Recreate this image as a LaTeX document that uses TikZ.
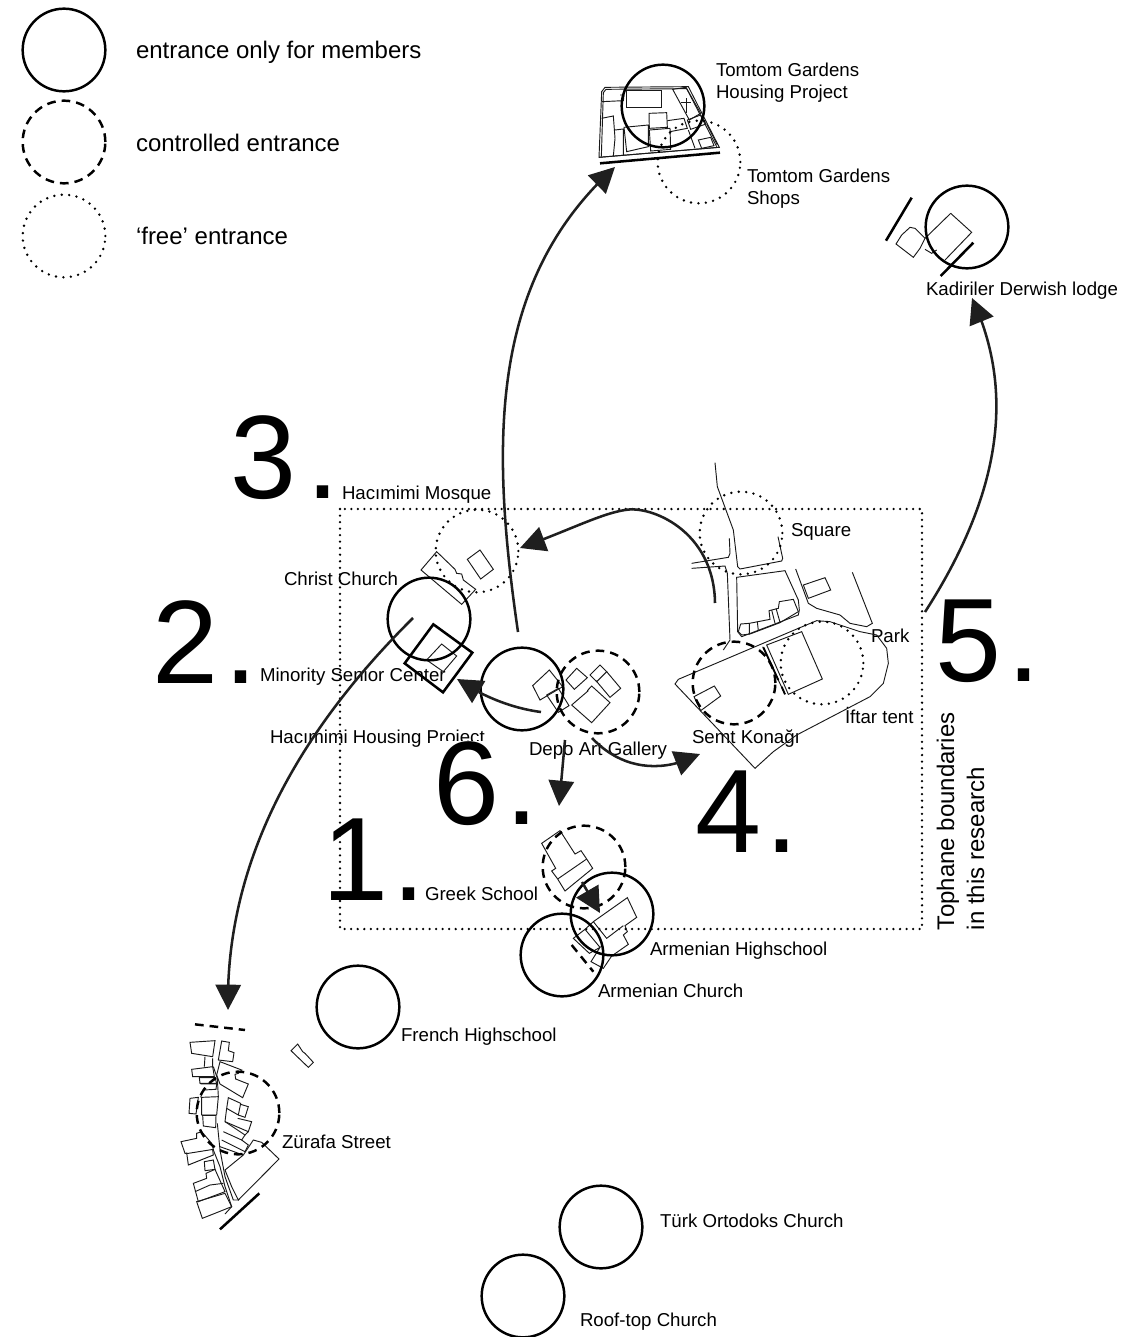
\documentclass[tikz,border=0pt]{standalone}
\usepackage{fontspec}
\setmainfont{Liberation Sans}
\usetikzlibrary{arrows.meta,bending}
\definecolor{ink}{HTML}{1F1F1F}
\tikzset{
  zm/.style 2 args={shift={(#1,#2)},x=0.25pt,y=-0.25pt},
  ringbase/.style={circle,minimum size=62pt,inner sep=0pt,outer sep=0pt,line width=1.85pt,draw=black},
  member/.style={ringbase},
  controlled/.style={ringbase,dash pattern=on 6.5pt off 4.5pt},
  free/.style={ringbase,line width=2pt,line cap=round,dash pattern=on 0pt off 5.6pt},
  thinl/.style={line width=0.7pt,draw=black!90,line join=miter},
  thickl/.style={line width=1.9pt,draw=black},
  route/.style={line width=1.9pt,draw=ink,-{Triangle[length=19pt,width=19pt,flex=1]}},
  lbl/.style={anchor=base west,inner sep=0pt,outer sep=0pt,font=\fontsize{14}{16.5}\selectfont,align=left},
  leg/.style={anchor=base west,inner sep=0pt,outer sep=0pt,font=\fontsize{18}{22}\selectfont},
  bignum/.style={anchor=base west,inner sep=0pt,outer sep=0pt,font=\fontsize{89}{89}\selectfont},
}
\begin{document}
\begin{tikzpicture}[x=0.75pt,y=-0.75pt]
\useasboundingbox (0,0) rectangle (1143,1337);

% labels
\node[lbl] (l9) at (270,743) {Hacımimi Housing Project};
\node[bignum] (n3) at (230,498) {3\kern0.085em.};
\node[bignum] (n2) at (152,683) {2\kern0.06em.};
\node[bignum,fill=white] (n6) at (433,824) {6\kern0.06em.};
\node[bignum] (n1) at (322,900) {1\kern0.04em.};
\node[bignum] (n4) at (695,852) {4\kern0.04em.};
\node[bignum] (n5) at (935,681) {5\kern0.06em.};
\node[leg] (t1) at (136,59) {entrance only for members};
\node[leg] (t2) at (136,152) {controlled entrance};
\node[leg] (t3) at (136,245) {‘free’ entrance};
\node[lbl] (l1) at (716,77) {Tomtom Gardens};
\node[lbl] (l1b) at (716,99) {Housing Project};
\node[lbl] (l2) at (747,183) {Tomtom Gardens};
\node[lbl] (l2b) at (747,205) {Shops};
\node[lbl] (l3) at (926,296) {Kadiriler Derwish lodge};
\node[lbl] (l4) at (342,499) {Hacımimi Mosque};
\node[lbl] (l5) at (791,536) {Square};
\node[lbl] (l6) at (284,585) {Christ Church};
\node[lbl] (l7) at (871,642) {Park};
\node[lbl] (l8) at (260,681) {Minority Senior Center};
\node[lbl] (l10) at (529,755) {Depo Art Gallery};
\node[lbl] (l11) at (692,743) {Semt Konağı};
\node[lbl] (l12) at (845,723) {İftar tent};
\node[lbl] (l13) at (425,900) {Greek School};
\node[lbl] (l14) at (650,955) {Armenian Highschool};
\node[lbl] (l15) at (598,997) {Armenian Church};
\node[lbl] (l16) at (401,1041) {French Highschool};
\node[lbl] (l17) at (282,1148) {Zürafa Street};
\node[lbl] (l18) at (660,1227) {Türk Ortodoks Church};
\node[lbl] (l19) at (580,1326) {Roof-top Church};
\node[leg,rotate=90] (v1) at (954,930) {Tophane boundaries};
\node[leg,rotate=90] (v2) at (984,930) {in this research};

% research boundary
\draw[line width=1.9pt,line cap=round,dash pattern=on 0pt off 4.9pt,draw=black] (340,509) rectangle (922,929);

% legend rings
\node[member] (c1) at (64,50) {};
\node[controlled] (c2) at (64,142) {};
\node[free] (c3) at (64,236) {};

% Tomtom Gardens
\begin{scope}[zm={580}{50}]
\draw[thinl] (57,322) -- (65,125) -- (75,112) -- (325,110) -- (418,292) -- cycle;
\draw[thinl] (64,320) -- (70,128) -- (78,118) -- (320,116) -- (410,290);
\draw[thinl] (140,120) rectangle (245,172);
\draw[thinl] (66,155) -- (130,152) -- (132,135) -- (120,135);
\draw[thinl] (65,205) -- (100,198) -- (105,265) -- (100,318);
\draw[thinl] (105,240) -- (130,237) -- (130,315);
\draw[thinl] (132,232) -- (205,225) -- (205,290) -- (140,305) -- cycle;
\draw[thinl] (207,190) -- (260,188) -- (262,232) -- (208,235) -- cycle;
\draw[thinl] (208,240) -- (270,235) -- (272,298) -- (212,303) -- cycle;
\draw[thinl] (262,212) -- (312,205) -- (322,235) -- (270,245);
\draw[thinl] (278,118) -- (318,112) -- (362,190) -- (328,210) -- cycle;
\draw[thinl] (320,145) -- (320,190) (303,158) -- (332,158);
\draw[thinl] (322,210) -- (362,195) -- (378,222) -- (332,238) -- cycle;
\draw[thinl] (325,240) -- (345,295) (380,222) -- (412,285);
\draw[thinl] (355,270) -- (392,262) -- (402,287) -- (365,295) -- cycle;
\draw[thinl] (57,322) -- (415,292);
\draw[thickl] (60,340) -- (420,308);
\end{scope}
\node[member] (hp) at (663,106) {};
\node[free] (sh) at (699,162) {};

% Kadiriler
\begin{scope}[zm={870}{170}]
\draw[thinl] (242,130) -- (305,187) -- (225,270);
\draw[thinl] (242,130) -- (165,205) -- (150,235) -- (130,262) -- (78,222) -- (95,195) -- (120,172) -- (135,175) -- (165,205);
\draw[thinl] (165,238) -- (185,250) -- (200,240);
\draw[thickl] (125,83) -- (48,212);
\draw[thickl] (310,218) -- (212,318);
\end{scope}
\node[member] (kd) at (967,227) {};

% Mosque, church, senior centre
\begin{scope}[zm={380}{500}]
\draw[thinl] (170,155) -- (123,210) -- (245,313) -- (287,268) -- (250,240) -- (245,222) -- (230,220) -- (225,208) -- cycle;
\draw[thinl] (300,150) -- (262,178) -- (302,237) -- (340,208) -- cycle;
\draw[thinl] (185,432) -- (230,468) -- (190,515) -- (140,480) -- cycle;
\draw[line width=1.9pt,draw=black,line join=miter] (160,373) -- (277,458) -- (189,577) -- (74,490) -- cycle;
\end{scope}
\node[free] (mq) at (477,551) {};
\node[member] (cc) at (429,619) {};

% Depo
\begin{scope}[zm={380}{500}]
\draw[thinl] (508,510) -- (458,557) -- (480,600) -- (548,560) -- cycle;
\draw[thinl] (500,585) -- (535,565) -- (567,617) -- (535,637) -- cycle;
\draw[thinl] (590,505) -- (558,540) -- (583,568) -- (622,533) -- cycle;
\draw[thinl] (660,495) -- (630,525) -- (650,545) -- (680,515) -- cycle;
\draw[thinl] (680,515) -- (722,565) -- (690,592) -- (648,542);
\draw[thinl] (625,572) -- (575,615) -- (635,668) -- (690,608) -- (635,558) -- (622,572);
\end{scope}
\node[member] (dp) at (522,689) {};
\node[controlled] (dg) at (598,692) {};

% Eastern area
\begin{scope}[zm={670}{460}]
\draw[thinl] (135,8) -- (142,80) -- (190,210) -- (203,320) -- (210,327) -- (335,303) -- (338,295) -- (324,230);
\draw[thinl] (65,310) -- (175,292) -- (180,280) -- (178,235);
\draw[thinl] (65,325) -- (165,318) -- (172,340) -- (180,540) -- (160,570);
\draw[thinl] (200,352) -- (345,332) -- (385,420) -- (388,450) -- (385,465) -- (215,530) -- (203,515) -- cycle;
\draw[thinl] (205,515) -- (212,492) -- (238,490) -- (300,478) -- (297,452) -- (325,445) -- (328,425) -- (370,418) -- (385,455) -- (330,488) -- (240,522) -- (215,525) -- cycle;
\draw[thinl] (262,485) -- (265,512) (305,450) -- (315,490) (318,445) -- (330,487) (238,490) -- (238,522);
\draw[thinl] (377,327) -- (415,430) -- (440,445) -- (510,465) -- (540,490) -- (590,500) -- (607,490) -- (547,337);
\draw[thinl] (400,375) -- (465,353) -- (482,390) -- (415,415) -- cycle;
\draw[thinl] (15,672) -- (25,658) -- (385,505) -- (440,482) -- (480,485) -- (570,515) -- (620,525) -- (650,565) -- (655,610) -- (640,670) -- (600,710) -- (380,825) -- (310,875) -- (255,925) -- cycle;
\draw[thinl] (290,555) -- (395,515) -- (457,657) -- (355,703) -- cycle;
\draw[thinl] (278,560) -- (345,703);
\draw[line width=1.4pt,draw=black] (280,562) -- (325,660);
\draw[line width=1.4pt,draw=black] (335,680) -- (345,703);
\draw[thinl] (72,710) -- (133,678) -- (152,708) -- (92,752) -- cycle;
\end{scope}
\node[free] (sq) at (741,533) {};
\node[free] (pk) at (822,663) {};
\node[controlled] (sk) at (734,683) {};

% Greek School, Armenian buildings
\begin{scope}[zm={510}{810}]
\draw[thinl] (150,62) -- (95,100) -- (137,175) -- (125,183) -- (143,207) -- (165,243) -- (248,175) -- (230,147) -- (213,122) -- (195,132) -- cycle;
\draw[thinl] (143,207) -- (230,147);
\draw[thinl] (352,263) -- (380,322) -- (345,347) -- (352,365) -- (340,375) -- (355,403) -- (305,438) -- (280,475) -- (243,455) -- (270,412) -- (238,430) -- (190,385) -- (225,358) -- (250,335) -- cycle;
\draw[thinl] (225,358) -- (270,412);
\draw[thinl] (250,335) -- (290,385) -- (340,347);
\draw[line width=1.85pt,draw=black,dash pattern=on 6.5pt off 4.5pt] (185,405) -- (250,485);
\end{scope}
\node[controlled] (gs) at (584,867) {};
\node[member] (ah) at (612,914) {};
\node[member] (ac) at (562,955) {};

% Zurafa
\begin{scope}[zm={170}{1010}]
\draw[thinl] (60,97) -- (135,92) -- (128,140) -- (65,130) -- cycle;
\draw[thinl] (105,140) -- (103,170) (128,145) -- (128,172);
\draw[thinl] (65,178) -- (128,170) -- (133,200) -- (68,200) -- cycle;
\draw[thinl] (88,203) -- (135,203) -- (140,220) -- (90,220) -- cycle;
\draw[thinl] (92,222) -- (140,222) -- (138,238) -- (100,240) -- (92,262);
\draw[thinl] (60,265) -- (85,262) -- (78,312) -- (57,310) -- cycle;
\draw[thinl] (95,262) -- (145,260) -- (140,315) -- (95,315) -- cycle;
\draw[thinl] (98,316) -- (138,316) -- (137,353) -- (100,348) -- cycle;
\draw[thinl] (33,395) -- (80,385) -- (80,370) -- (95,365) -- (125,400) -- (130,418) -- (55,430) -- (45,430) -- cycle;
\draw[thinl] (50,428) -- (55,465) -- (130,435) -- (128,420);
\draw[thinl] (103,455) -- (130,450) -- (135,478) -- (105,482) -- cycle;
\draw[thinl] (108,490) -- (135,478) -- (165,545) -- (85,575) -- (70,520) -- (110,505) -- cycle;
\draw[thinl] (80,575) -- (165,550) -- (185,590) -- (97,625) -- cycle;
\draw[thinl] (75,545) -- (120,525) -- (160,520);
\draw[thinl] (155,93) -- (178,97) -- (175,122) -- (192,128) -- (188,155) -- (145,150) -- cycle;
\draw[thinl] (150,155) -- (215,180) -- (205,190) -- (195,193) -- (197,207) -- (235,222) -- (218,263) -- (150,222) -- (140,195) -- cycle;
\draw[thinl] (175,263) -- (212,280) -- (205,315) -- (170,295) -- cycle;
\draw[thinl] (212,283) -- (235,290) -- (225,322) -- (205,315);
\draw[thinl] (170,295) -- (165,335) -- (235,365) -- (245,335) -- (203,325);
\draw[thinl] (165,335) -- (225,375) -- (235,365);
\draw[thinl] (160,365) -- (215,390) -- (225,375);
\draw[thinl] (155,390) -- (225,425) -- (235,405) -- (215,390);
\draw[thinl] (150,410) -- (220,435);
\draw[thinl] (165,480) -- (220,435) -- (250,390) -- (275,397) -- (327,447) -- (205,570) -- (185,530) -- cycle;
\draw[thinl] (142,340) -- (150,420) -- (165,500) -- (190,570) -- (205,570);
\draw[thinl] (130,420) -- (150,470) -- (165,530) -- (185,590) -- (165,612);
\draw[thinl] (130,170) -- (142,205) -- (145,260);
\draw[thinl] (383,102) -- (363,122) -- (415,172) -- (430,157) -- (405,130) -- (398,125) -- cycle;
\draw[line width=1.85pt,draw=black,dash pattern=on 6.5pt off 4.5pt] (75,43) -- (225,60);
\draw[thickl] (150,658) -- (268,550);
\end{scope}
\node[controlled] (zs) at (238,1113) {};
\node[member] (fh) at (358,1007) {};
\node[member] (to) at (601,1227) {};
\node[member] (rt) at (523,1296) {};

% routes
\coordinate (a1s) at (715,603); \coordinate (a1e) at (520,548);
\coordinate (a2s) at (518,632); \coordinate (a2e) at (615,167);
\coordinate (a3s) at (925,612); \coordinate (a3e) at (972,298);
\coordinate (a4s) at (413,618); \coordinate (a4e) at (228,1010);
\coordinate (a5s) at (541,712); \coordinate (a5e) at (457,679);
\coordinate (a6s) at (592,738); \coordinate (a6e) at (700,754);
\coordinate (a7s) at (565,740); \coordinate (a7e) at (559,806);
\coordinate (a8s) at (582,882); \coordinate (a8e) at (600,913);
\draw[route] (a1s) .. controls (714,530) and (650,505) .. (625,510) .. controls (600,514) and (570,530) .. (a1e);
\draw[route] (a2s) .. controls (490,440) and (490,280) .. (a2e);
\draw[route] (a3s) .. controls (1010,480) and (1010,380) .. (a3e);
\draw[route] (a4s) .. controls (300,730) and (225,860) .. (a4e);
\draw[route] (a5s) .. controls (510,708) and (480,695) .. (a5e);
\draw[route] (a6s) .. controls (620,768) and (660,775) .. (a6e);
\draw[route] (a7s) -- (a7e);
\draw[route] (a8s) -- (a8e);
\end{tikzpicture}
\end{document}
